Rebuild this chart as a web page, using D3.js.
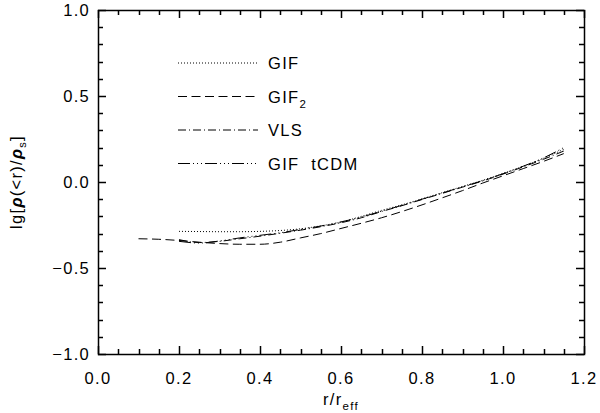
<!DOCTYPE html>
<html><head><meta charset="utf-8">
<script src="https://cdn.jsdelivr.net/npm/d3@7"></script>
<style>body{margin:0;background:#fff}svg{display:block}text{font-family:"Liberation Sans",Arial,sans-serif;fill:#000}</style>
</head><body>
<svg id="c" width="600" height="413"></svg>
<script>
const xGIF = [0.20,0.25,0.30,0.35,0.40,0.45,0.50,0.55,0.60,0.65,0.70,0.75,0.80,0.85,0.90,0.95,1.00,1.05,1.10,1.15];
const yGIF = [-0.287,-0.288,-0.289,-0.289,-0.287,-0.282,-0.272,-0.255,-0.233,-0.200,-0.165,-0.133,-0.098,-0.062,-0.026,0.010,0.050,0.092,0.138,0.190];
const xGIF2 = [0.10,0.15,0.20,0.25,0.30,0.35,0.40,0.45,0.50,0.55,0.60,0.65,0.70,0.75,0.80,0.85,0.90,0.95,1.00,1.05,1.10,1.15];
const yGIF2 = [-0.330,-0.333,-0.340,-0.350,-0.358,-0.362,-0.362,-0.350,-0.325,-0.300,-0.270,-0.240,-0.208,-0.172,-0.133,-0.092,-0.050,-0.006,0.036,0.078,0.120,0.165];
const xVLS = [0.20,0.25,0.30,0.35,0.40,0.45,0.50,0.55,0.60,0.65,0.70,0.75,0.80,0.85,0.90,0.95,1.00,1.05,1.10,1.15];
const yVLS = [-0.335,-0.352,-0.345,-0.330,-0.315,-0.298,-0.280,-0.260,-0.237,-0.208,-0.172,-0.138,-0.102,-0.066,-0.030,0.006,0.046,0.088,0.132,0.180];
const xTCDM = [0.20,0.25,0.30,0.35,0.40,0.45,0.50,0.55,0.60,0.65,0.70,0.75,0.80,0.85,0.90,0.95,1.00,1.05,1.10,1.15];
const yTCDM = [-0.345,-0.355,-0.343,-0.325,-0.310,-0.295,-0.276,-0.256,-0.232,-0.204,-0.170,-0.136,-0.100,-0.064,-0.028,0.008,0.048,0.092,0.140,0.200];
const xTicks = [0.0,0.2,0.4,0.6,0.8,1.0,1.2];
const yTicks = [-1.0,-0.5,0.0,0.5,1.0];

const series = [
  {name:"GIF", sub:null, xs:xGIF, ys:yGIF, dash:"1,2"},
  {name:"GIF", sub:"2", xs:xGIF2, ys:yGIF2, dash:"9,4.5"},
  {name:"VLS", sub:null, xs:xVLS, ys:yVLS, dash:"8,3,1,3"},
  {name:"GIF  tCDM", sub:null, xs:xTCDM, ys:yTCDM, dash:"12,3,1,3,1,3,1,3"}
];

const L=98, R=584, T=10, B=354;
const FS=16.5, LS="1.3px";
const svg = d3.select("#c");
const x = d3.scaleLinear().domain([0,1.2]).range([L,R]);
const y = d3.scaleLinear().domain([-1,1]).range([B,T]);

const fmt = d3.format(".1f");
const minorX = d3.range(0,1.2001,0.05);
const minorY = d3.range(-1,1.0001,0.1);
function fmtLab(v){ const s=fmt(Math.abs(v)<1e-9?0:v); return s.replace("-","\u2212"); }
const px = v => Math.round(v)+0.5;
function isMajor(v, arr){ return arr.some(a=>Math.abs(a-v)<1e-6); }

// ticks (inward, all four sides) as one path
const tp = d3.path();
minorX.forEach(v=>{
  const len = isMajor(v,xTicks)?8:5, X = px(x(v));
  tp.moveTo(X,B); tp.lineTo(X,B-len);
  tp.moveTo(X,T); tp.lineTo(X,T+len);
});
minorY.forEach(v=>{
  const len = isMajor(v,yTicks)?8:5, Y = px(y(v));
  tp.moveTo(L,Y); tp.lineTo(L+len,Y);
  tp.moveTo(R,Y); tp.lineTo(R-len,Y);
});
svg.append("path").attr("d",tp.toString()).attr("fill","none")
  .attr("stroke","#000").attr("stroke-width",1.5);

// frame
svg.append("rect").attr("x",L+0.5).attr("y",T+0.5).attr("width",R-L).attr("height",B-T)
  .attr("fill","none").attr("stroke","#000").attr("stroke-width",1.5);

// tick labels
svg.append("g").selectAll("text").data(xTicks).join("text")
  .attr("x",d=>x(d)).attr("y",B+30).attr("text-anchor","middle")
  .attr("font-size",FS).attr("letter-spacing",LS).text(fmtLab);
svg.append("g").selectAll("text").data(yTicks).join("text")
  .attr("x",L-8).attr("y",d=>y(d)+6).attr("text-anchor","end")
  .attr("font-size",FS).attr("letter-spacing",LS).text(fmtLab);

const lineGen = d3.line().x(d=>x(d[0])).y(d=>y(d[1])).curve(d3.curveMonotoneX);
series.forEach(s=>{
  svg.append("path").datum(s.xs.map((v,i)=>[v,s.ys[i]]))
    .attr("d",lineGen).attr("fill","none").attr("stroke","#000").attr("stroke-width",1)
    .attr("stroke-dasharray",s.dash);
});

// legend
series.forEach((s,i)=>{
  const ly = 63 + i*33.5;
  svg.append("line").attr("x1",178).attr("x2",258).attr("y1",ly).attr("y2",ly)
    .attr("stroke","#000").attr("stroke-width",1).attr("stroke-dasharray",s.dash);
  const t = svg.append("text").attr("x",268).attr("y",ly+6).attr("font-size",FS).attr("letter-spacing",LS)
    .attr("xml:space","preserve").style("white-space","pre");
  t.append("tspan").text(s.name);
  if(s.sub) t.append("tspan").attr("font-size",11.5).attr("dy",5).text(s.sub);
});

// axis labels
const xl = svg.append("text").attr("x",(L+R)/2).attr("y",405).attr("text-anchor","middle").attr("font-size",FS).attr("letter-spacing",LS);
xl.append("tspan").text("r/r");
xl.append("tspan").attr("font-size",11.5).attr("dy",5).text("eff");

const yl = svg.append("text").attr("transform",`translate(22,${(T+B)/2}) rotate(-90)`)
  .attr("text-anchor","middle").attr("font-size",FS).attr("letter-spacing",LS);
yl.append("tspan").text("lg[");
yl.append("tspan").attr("font-weight","bold").attr("font-style","italic").text("ρ");
yl.append("tspan").text("(<r)/");
yl.append("tspan").attr("font-weight","bold").attr("font-style","italic").text("ρ");
yl.append("tspan").attr("font-size",11).attr("dy",4).text("s");
yl.append("tspan").attr("dy",-4).text("]");
</script>
</body></html>
